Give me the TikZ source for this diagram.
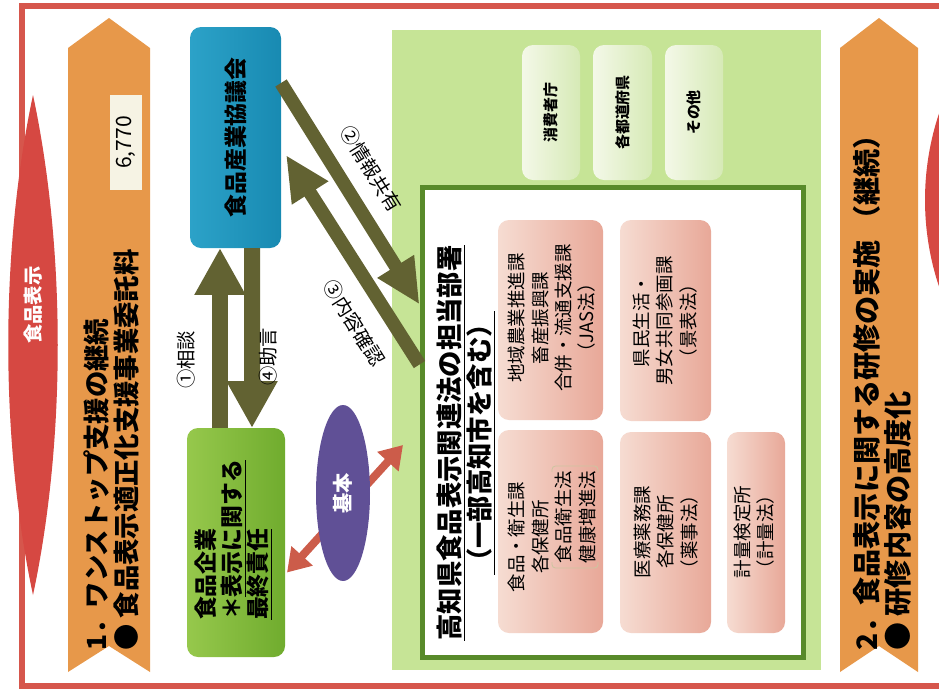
\documentclass[tikz,border=0pt]{standalone}
\usepackage{fontspec}
\setmainfont{Noto Sans CJK JP}
\usetikzlibrary{arrows.meta,shapes.geometric,fit,calc}

\definecolor{framered}{RGB}{214,86,76}
\definecolor{lensred}{RGB}{214,72,66}
\definecolor{bannerorange}{RGB}{231,152,74}
\definecolor{teal1}{RGB}{44,162,200}
\definecolor{teal2}{RGB}{24,138,178}
\definecolor{leaf1}{RGB}{150,200,76}
\definecolor{leaf2}{RGB}{112,172,46}
\definecolor{olivearrow}{RGB}{98,98,50}
\definecolor{palegreen}{RGB}{198,228,150}
\definecolor{darkgreen}{RGB}{88,138,42}
\definecolor{mint1}{RGB}{244,248,232}
\definecolor{mint2}{RGB}{214,234,182}
\definecolor{pink1}{RGB}{246,220,210}
\definecolor{pink2}{RGB}{232,168,152}
\definecolor{kihonred}{RGB}{204,92,74}
\definecolor{kihonpurple}{RGB}{96,80,150}
\definecolor{cream}{RGB}{246,243,228}
\definecolor{brackettan}{RGB}{206,196,160}

\begin{document}
\begin{tikzpicture}[x=0.02cm, y=-0.02cm,
    box/.style={inner sep=0pt, outer sep=0pt, rounded corners=0.22cm},
    tate/.style={rotate=90, inner sep=0pt, align=center},
    fatarrow/.style={draw=olivearrow, line width=0.32cm, -{Triangle[width=0.96cm,length=0.94cm]}},
    slantarrow/.style={draw=olivearrow, line width=0.27cm, -{Triangle[width=0.8cm,length=0.9cm]}},
    kihonarrow/.style={draw=kihonred, line width=0.16cm, {Triangle[width=0.55cm,length=0.45cm]}-{Triangle[width=0.55cm,length=0.45cm]}},
    pinkbox/.style={box, left color=pink1, right color=pink2},
    mintbox/.style={box, left color=mint1, right color=mint2},
    pinktext/.style={tate, font=\fontsize{10.5}{13.3}\selectfont},
    minttext/.style={tate, font=\fontsize{8.5}{10}\selectfont\bfseries},
    labeltext/.style={font=\fontsize{11}{13}\selectfont, inner sep=0pt},
    bannertext/.style={tate, anchor=west, align=left, font=\fontsize{15}{17}\selectfont\bfseries}]

    \useasboundingbox (0,0) rectangle (939,697);
    \draw[framered, line width=0.11cm] (22,6) rectangle (990,686);

    \fill[lensred] (33,95) .. controls (66,250) and (66,440) .. (33,595)
        .. controls (0,440) and (0,250) .. (33,95);
    \node[tate, text=white, font=\fontsize{11}{13}\selectfont\bfseries] (lens-t) at (33,305) {食品表示};
    \fill[lensred] (958,70) .. controls (914,150) and (914,250) .. (958,330) -- cycle;

    \fill[bannerorange] (68,48) -- (109,18) -- (150,48) -- (150,672) -- (109,646) -- (68,672) -- cycle;
    \node[bannertext] (shien) at (111,651) {1．ワンストップ支援の継続\\● 食品表示適正化支援事業委託料};
    \node[fill=cream, inner sep=0pt, fit={(110,95) (142,190)}] (yosan) {};
    \node[tate, font=\fontsize{12}{14}\selectfont] (yosan-t) at (yosan) {6,770};

    \fill[bannerorange] (840,48) -- (879,18) -- (918,48) -- (918,672) -- (879,646) -- (840,672) -- cycle;
    \node[bannertext, font=\fontsize{16}{17.5}\selectfont\bfseries] (kenshu) at (882,651)
        {2．食品表示に関する研修の実施 （継続）\\● 研修内容の高度化};

    \node[box, left color=teal1, right color=teal2, fit={(190,27) (281,248)}] (kyogikai) {};
    \node[tate, font=\fontsize{13}{15}\selectfont\bfseries] (kyogikai-t) at (kyogikai) {食品産業協議会};

    \node[box, left color=leaf1, right color=leaf2, fit={(187,428) (285,657)}] (kigyo) {};
    \node[tate, align=left, font=\fontsize{13}{14.8}\selectfont\bfseries] (kigyo-t) at (234,540)
        {食品企業\\＊\underline{表示に関する}\\\underline{最終責任}};

    \draw[fatarrow] ($(kigyo.north)+(-16,0)$) -- ($(kyogikai.south)+(-15.5,0)$);
    \draw[fatarrow] ($(kyogikai.south)+(16.5,0)$) -- ($(kigyo.north)+(16,0)$);
    \node[tate, labeltext] (sodan) at (186,360) {①相談};
    \node[tate, labeltext] (jogen) at (268,357) {④助言};

    \node[fill=palegreen, inner sep=0pt, outer sep=0pt, fit={(392,30) (821,670)}] (kikan) {};
    \node[mintbox, fit={(522,45) (580,180)}] (shohisha) {};
    \node[minttext] (shohisha-t) at (shohisha) {消費者庁};
    \node[mintbox, fit={(593,45) (652,180)}] (todofuken) {};
    \node[minttext] (todofuken-t) at (todofuken) {各都道府県};
    \node[mintbox, fit={(665,45) (723,180)}] (sonota) {};
    \node[minttext] (sonota-t) at (sonota) {その他};

    \node[draw=darkgreen, line width=0.1cm, fill=white, inner sep=0pt, fit={(422,187) (803,657)}] (tanto) {};
    \node[tate, font=\fontsize{15}{17}\selectfont\bfseries] (tanto-t) at (466,443)
        {\underline{高知県食品表示関連法の担当部署}\\\underline{（一部高知市を含む）}};

    \draw[slantarrow] ($(kyogikai.north east)+(0,56)$) -- ($(tanto.north west)+(0,120)$);
    \draw[slantarrow] ($(tanto.north west)+(0,180)$) -- ($(kyogikai.north east)+(5,128)$);
    \node[labeltext, rotate=-58] (kyoyu) at (371,169) {②情報共有};
    \node[labeltext, rotate=-58] (kakunin) at (354,323) {③内容確認};

    \node[pinkbox, fit={(498,220) (603,420)}] (nogyo) {};
    \node[pinktext] (nogyo-t) at (552,318) {地域農業推進課\\畜産振興課\\合併・流通支援課\\（JAS法）};
    \node[pinkbox, fit={(498,430) (603,633)}] (eisei) {};
    \node[pinktext] (eisei-t) at (552,537)
        {食品・衛生課\\各保健所\\\hspace*{0.8cm}食品衛生法\\\hspace*{0.8cm}健康増進法};
    \draw[brackettan, line width=0.5pt, rounded corners=2pt] (552,472) -- (552,466) -- (598,466) -- (598,472);
    \draw[brackettan, line width=0.5pt, rounded corners=2pt] (552,562) -- (552,568) -- (598,568) -- (598,562);
    \node[pinkbox, fit={(620,220) (711,421)}] (kenmin) {};
    \node[pinktext] (kenmin-t) at (665,321) {県民生活・\\男女共同参画課\\（景表法）};
    \node[pinkbox, fit={(620,432) (711,633)}] (iryo) {};
    \node[pinktext] (iryo-t) at (666,532) {医療薬務課\\各保健所\\（薬事法）};
    \node[pinkbox, fit={(727,432) (785,633)}] (keiryo) {};
    \node[pinktext] (keiryo-t) at (754,532) {計量検定所\\（計量法）};

    \coordinate (kihon-pt) at ($(kikan.west)+(11,95)$);
    \draw[kihonarrow] ($(kigyo.east)+(2,30)$) -- (kihon-pt);
    \node[ellipse, rotate=90, fill=kihonpurple, text=white, inner sep=0pt,
        minimum width=3.52cm, minimum height=1.08cm, font=\fontsize{11.5}{13}\selectfont\bfseries] (kihon) at (343,493) {基本};
\end{tikzpicture}
\end{document}
